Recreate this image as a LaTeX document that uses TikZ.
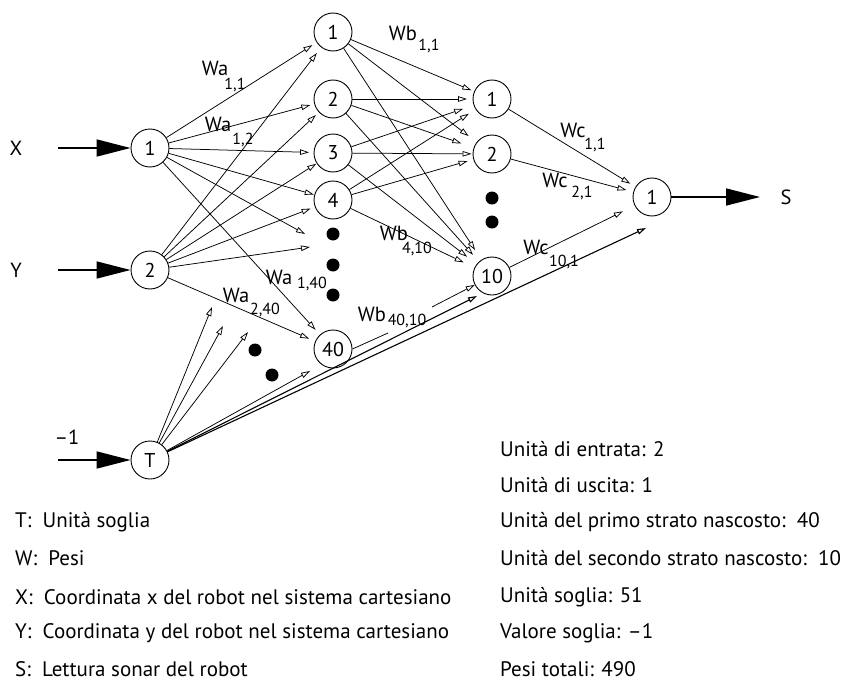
\documentclass[tikz,border=0pt]{standalone}
\usepackage{fontspec}
\setmainfont{PT Sans}
\usetikzlibrary{arrows.meta}

\begin{document}
\begin{tikzpicture}[x=1pt,y=-1pt,
  neuron/.style={circle,draw,line width=0.9pt,minimum size=38pt,inner sep=0pt,font=\fontsize{20}{20}\selectfont},
  conn/.style={line width=0.75pt,-{Triangle[open,length=9pt,width=5.5pt]}},
  plain/.style={line width=0.75pt},
  longconn/.style={line width=1.1pt,-{Triangle[open,length=9pt,width=5.5pt]}},
  bigarrow/.style={line width=1.6pt,-{Triangle[length=34pt,width=17pt]}},
  wlab/.style={font=\fontsize{20.5}{20.5}\selectfont,inner sep=0pt},
  wsub/.style={font=\fontsize{16}{16}\selectfont,inner sep=0pt},
  txt/.style={font=\fontsize{21}{21}\selectfont,inner sep=0pt,anchor=west},
  bigdot/.style={circle,fill,minimum size=13pt,inner sep=0pt},
]
\useasboundingbox (0,0) rectangle (846,685);

% input layer and threshold unit
\node[neuron] (i1) at (150,148) {1};
\node[neuron] (i2) at (150,270) {2};
\node[neuron] (t)  at (150,460) {T};

% first hidden layer
\node[neuron] (h1)  at (333,32)  {1};
\node[neuron] (h2)  at (333,99)  {2};
\node[neuron] (h3)  at (333,153) {3};
\node[neuron] (h4)  at (333,200) {4};
\node[neuron] (h40) at (333,349) {40};
\node[bigdot] (hd1) at (333,234) {};
\node[bigdot] (hd2) at (333,265) {};
\node[bigdot] (hd3) at (333,295) {};

% second hidden layer
\node[neuron] (o1)  at (492,99)  {1};
\node[neuron] (o2)  at (492,154) {2};
\node[neuron] (o10) at (492,276) {10};
\node[bigdot] (od1) at (492,198) {};
\node[bigdot] (od2) at (492,222) {};

% output unit
\node[neuron] (out) at (652,197) {1};

% dots among the threshold links
\node[bigdot] (td1) at (255,350) {};
\node[bigdot] (td2) at (272,375) {};

% input / output labels and arrows
\node[wlab] (lx) at (16,148) {X};
\node[wlab] (ly) at (16,270) {Y};
\node[wlab] (lm) at (67,437) {–1};
\node[wlab] (ls) at (786,197) {S};
\coordinate (ax) at (58,148);
\coordinate (ay) at (58,270);
\coordinate (at) at (58,460);
\coordinate (as) at (760,197);
\draw[bigarrow] (ax) -- (i1);
\draw[bigarrow] (ay) -- (i2);
\draw[bigarrow] (at) -- (t);
\draw[bigarrow] (out) -- (as);

% free ends of links towards units not drawn
\coordinate (ea) at (305,234);
\coordinate (eb) at (310,247);
\coordinate (ec) at (212,307);
\coordinate (ed) at (223,326);
\coordinate (ee) at (248,332);
\coordinate (ef) at (310,371);
\coordinate (eg) at (477,296);
\coordinate (eh) at (646,228);

% weights Wa: input -> first hidden layer
\foreach \s/\d/\k in {i1/h1/5,i1/h2/4,i1/h3/4.5,i1/h4/0.5,i1/h40/6.5,
                      i2/h1/7,i2/h2/4,i2/h3/0.5,i2/h4/4.5,i2/h40/6.5}
  \draw[conn,shorten >=\k pt] (\s) -- (\d);
\draw[conn] (i1) -- (ea);
\draw[conn] (i2) -- (eb);

% threshold links
\draw[conn] (t) -- (ec);
\draw[conn] (t) -- (ed);
\draw[conn] (t) -- (ee);
\draw[conn] (t) -- (ef);
\draw[longconn] (t) -- (eg);
\draw[longconn] (t) -- (eh);

% weights Wb: first -> second hidden layer
\foreach \s/\d/\k in {h1/o1/3,h1/o2/10,h1/o10/11.5,
                      h2/o1/5.5,h2/o2/13,h2/o10/9,
                      h3/o1/11,h3/o2/1,h3/o10/12,
                      h4/o1/8,h4/o2/6,h4/o10/12}
  \draw[conn,shorten >=\k pt] (\s) -- (\d);

% link 40 -> 10, interrupted by its label
\coordinate (ga) at (388,333);
\coordinate (gb) at (432,307);
\draw[plain] (h40.east) -- (ga);
\draw[conn] (gb) -- (o10);

% weights Wc: second hidden layer -> output
\foreach \s/\k in {o1/6,o2/7,o10/13}
  \draw[conn,shorten >=\k pt] (\s) -- (out);

% weight labels
\node[wlab] (wa11)  at (215,68)  {Wa};   \node[wsub] (wa11s)  at (235,85)  {1,1};
\node[wlab] (wa12)  at (218,124) {Wa};   \node[wsub] (wa12s)  at (243,140) {1,2};
\node[wlab] (wa140) at (279,277) {Wa};   \node[wsub] (wa140s) at (312,284) {1,40};
\node[wlab] (wa240) at (236,295) {Wa};   \node[wsub] (wa240s) at (265,310) {2,40};
\node[wlab] (wb11)  at (403,33)  {Wb};   \node[wsub] (wb11s)  at (429,46)  {1,1};
\node[wlab] (wb410) at (394,233) {Wb};   \node[wsub] (wb410s) at (417,249) {4,10};
\node[wlab] (wb4010) at (372,314) {Wb};  \node[wsub] (wb4010s) at (407,321) {40,10};
\node[wlab] (wc11)  at (573,130) {Wc};   \node[wsub] (wc11s)  at (595,145) {1,1};
\node[wlab] (wc21)  at (555,180) {Wc};   \node[wsub] (wc21s)  at (582,193) {2,1};
\node[wlab] (wc101) at (536,247) {Wc};   \node[wsub] (wc101s) at (564,262) {10,1};

% legend
\node[txt] (lgT) at (15,522) {T:\ \ Unità soglia};
\node[txt] (lgW) at (15,558) {W:\ \ Pesi};
\node[txt] (lgX) at (15,597) {X:\ \ Coordinata x del robot nel sistema cartesiano};
\node[txt] (lgY) at (15,633) {Y:\ \ Coordinata y del robot nel sistema cartesiano};
\node[txt] (lgS) at (15,669) {S:\ \ Lettura sonar del robot};

% network summary
\node[txt] (n1) at (500,449) {Unità di entrata: 2};
\node[txt] (n2) at (500,485) {Unità di uscita: 1};
\node[txt] (n3) at (500,522) {Unità del primo strato nascosto:\ \ 40};
\node[txt] (n4) at (500,558) {Unità del secondo strato nascosto:\ \ 10};
\node[txt] (n5) at (500,597) {Unità soglia: 51};
\node[txt] (n6) at (500,633) {Valore soglia: –1};
\node[txt] (n7) at (500,669) {Pesi totali: 490};
\end{tikzpicture}
\end{document}
